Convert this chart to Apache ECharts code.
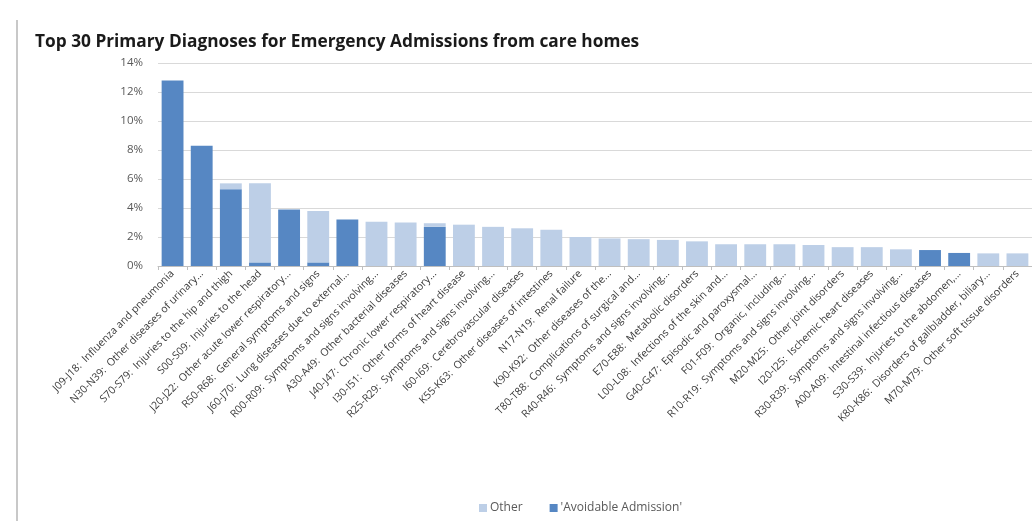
<!DOCTYPE html>
<html>
<head>
<meta charset="utf-8">
<script src="https://cdn.jsdelivr.net/npm/echarts@6/dist/echarts.min.js"></script>
<style>
html,body{margin:0;padding:0;background:#fff;}
#chart{width:1032px;height:521px;}
</style>
</head>
<body>
<div id="chart"></div>
<script>
var categories = [
  "J09-J18:  Influenza and pneumonia",
  "N30-N39:  Other diseases of urinary...",
  "S70-S79:  Injuries to the hip and thigh",
  "S00-S09:  Injuries to the head",
  "J20-J22:  Other acute lower respiratory...",
  "R50-R68:  General symptoms and signs",
  "J60-J70:  Lung diseases due to external...",
  "R00-R09:  Symptoms and signs involving...",
  "A30-A49:  Other bacterial diseases",
  "J40-J47:  Chronic lower respiratory...",
  "I30-I51:  Other forms of heart disease",
  "R25-R29:  Symptoms and signs involving...",
  "I60-I69:  Cerebrovascular diseases",
  "K55-K63:  Other diseases of intestines",
  "N17-N19:  Renal failure",
  "K90-K92:  Other diseases of the...",
  "T80-T88:  Complications of surgical and...",
  "R40-R46:  Symptoms and signs involving...",
  "E70-E88:  Metabolic disorders",
  "L00-L08:  Infections of the skin and...",
  "G40-G47:  Episodic and paroxysmal...",
  "F01-F09:  Organic, including...",
  "R10-R19:  Symptoms and signs involving...",
  "M20-M25:  Other joint disorders",
  "I20-I25:  Ischemic heart diseases",
  "R30-R39:  Symptoms and signs involving...",
  "A00-A09:  Intestinal infectious diseases",
  "S30-S39:  Injuries to the abdomen,...",
  "K80-K86:  Disorders of gallbladder, biliary...",
  "M70-M79:  Other soft tissue disorders"
];
var avoidable = [12.8, 8.3, 5.3, 0.25, 3.9, 0.25, 3.2, 0, 0, 2.7, 0, 0, 0, 0, 0, 0, 0, 0, 0, 0, 0, 0, 0, 0, 0, 0, 1.1, 0.9, 0, 0];
var other =     [0, 0, 0.4, 5.45, 0, 3.55, 0, 3.05, 3.0, 0.25, 2.85, 2.7, 2.6, 2.5, 2.0, 1.9, 1.85, 1.8, 1.7, 1.5, 1.5, 1.5, 1.45, 1.3, 1.3, 1.15, 0, 0, 0.87, 0.87];
var yTicks = { min: 0, max: 14, interval: 2 };
var seriesNames = ["Other", "'Avoidable Admission'"];

var chart = echarts.init(document.getElementById('chart'), null, {renderer: 'canvas'});
chart.setOption({
  animation: false,
  backgroundColor: '#ffffff',
  title: {
    text: 'Top 30 Primary Diagnoses for Emergency Admissions from care homes',
    left: 30, top: 29,
    textStyle: { fontFamily: 'Open Sans', fontWeight: 'bold', fontSize: 17.3, color: '#1a1a1a' }
  },
  legend: {
    data: [seriesNames[0], seriesNames[1]],
    left: 474, top: 497,
    itemWidth: 8, itemHeight: 8, itemGap: 27,
    icon: 'rect',
    textStyle: { fontFamily: 'Open Sans', fontSize: 12, color: '#595959', padding: [0,0,0,-2] }
  },
  graphic: [{
    type: 'line', shape: { x1: 17, y1: 20, x2: 17, y2: 521 },
    style: { stroke: '#c8c8c8', lineWidth: 2 }
  }],
  grid: { left: 158, top: 63, bottom: 255, right: -7, containLabel: false },
  xAxis: {
    type: 'category',
    data: categories,
    axisLine: { lineStyle: { color: '#bfbfbf' } },
    axisTick: { show: true, length: 4, lineStyle: { color: '#bfbfbf' } },
    axisLabel: { rotate: 45, interval: 0, margin: 6, fontFamily: 'Open Sans', fontSize: 10.5, color: '#3a3a3a' }
  },
  yAxis: {
    type: 'value', min: yTicks.min, max: yTicks.max, interval: yTicks.interval,
    axisLine: { show: false }, axisTick: { show: false },
    axisLabel: { formatter: '{value}%', margin: 15, fontFamily: 'Open Sans', fontSize: 11.5, color: '#595959' },
    splitLine: { lineStyle: { color: '#d9d9d9', width: 1 } }
  },
  series: [
    { name: seriesNames[1], type: 'bar', stack: 'a', data: avoidable, barCategoryGap: '25%',
      itemStyle: { color: '#5687c3' } },
    { name: seriesNames[0], type: 'bar', stack: 'a', data: other, barCategoryGap: '25%',
      itemStyle: { color: '#bdcfe7' } }
  ]
});
</script>
</body>
</html>
